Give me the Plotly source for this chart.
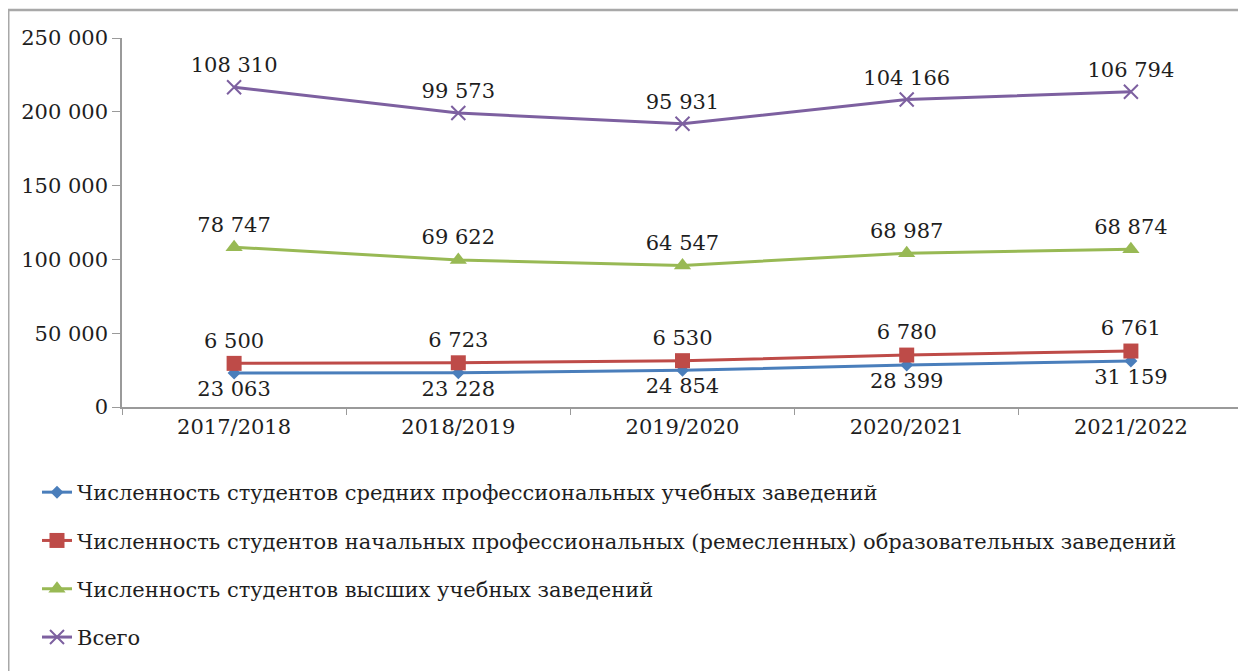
import plotly.graph_objects as go

years = ["2017/2018", "2018/2019", "2019/2020", "2020/2021", "2021/2022"]
secondary = [23063, 23228, 24854, 28399, 31159]
primary = [6500, 6723, 6530, 6780, 6761]
higher = [78747, 69622, 64547, 68987, 68874]
total = [108310, 99573, 95931, 104166, 106794]

names = [
    "Численность студентов средних профессиональных учебных заведений",
    "Численность студентов начальных профессиональных (ремесленных) образовательных заведений",
    "Численность студентов высших учебных заведений",
    "Всего",
]

FONT = "DejaVu Serif"
TXT = "#1e1e1e"

# page offset of the plotly div inside the html body (default body margin)
OFF = 8
W, H = 1246 - OFF, 671 - OFF
L, T = 122 - OFF, 38 - OFF
PW, PH = 1121, 369
R = W - L - PW
B = H - T - PH


def fmt(v):
    return f"{v:,}".replace(",", " ")


def px(xpix):
    return (xpix - OFF - L) / PW


def py(ypix):
    return (T + PH - (ypix - OFF)) / PH


series = [
    (secondary, names[0], "#4a7ebb", dict(symbol="diamond", size=10), "bottom center"),
    (primary, names[1], "#be4b48", dict(symbol="square", size=15), "top center"),
    (higher, names[2], "#98b954", dict(symbol="triangle-up", size=15), "top center"),
    (total, names[3], "#7d60a0", dict(symbol="x-thin", size=14, line=dict(width=2, color="#7d60a0")), "top center"),
]

fig = go.Figure()
for i, (vals, name, color, mk, tpos) in enumerate(series):
    fig.add_trace(go.Scatter(
        x=years, y=vals, name=name, stackgroup="s", fill="none",
        mode="lines+markers+text",
        line=dict(color=color, width=3),
        marker=dict(color=color, **mk),
        text=[fmt(v) for v in vals], textposition=tpos,
        textfont=dict(family=FONT, size=21, color=TXT),
        legendgroup=f"g{i}",
    ))

fig.update_layout(
    width=W, height=H,
    margin=dict(l=L, r=R, t=T, b=B, autoexpand=False),
    paper_bgcolor="white", plot_bgcolor="white",
    separators=", ",
    font=dict(family=FONT, size=21, color=TXT),
    showlegend=True,
    legend=dict(
        x=px(37), y=py(472), xanchor="left", yanchor="top",
        orientation="v", tracegroupgap=18,
        font=dict(family=FONT, size=21, color=TXT),
        bgcolor="rgba(0,0,0,0)",
    ),
    xaxis=dict(
        range=[-0.5, 4.5],
        showgrid=False, showline=True, linecolor="#9a9a9a", linewidth=1.5,
        ticks="outside", tickson="boundaries", ticklen=6, tickcolor="#9a9a9a",
        tickfont=dict(family=FONT, size=21, color=TXT),
    ),
    yaxis=dict(
        range=[0, 250000], dtick=50000, tickformat=",d",
        showgrid=False, showline=True, linecolor="#9a9a9a", linewidth=1.5,
        ticks="outside", ticklen=8, tickcolor="#9a9a9a",
        tickfont=dict(family=FONT, size=21, color=TXT),
        zeroline=False,
    ),
    shapes=[
        dict(type="line", xref="paper", yref="paper",
             x0=px(8), x1=px(8), y0=py(10), y1=py(700),
             line=dict(color="#a8a8a8", width=3)),
        dict(type="line", xref="paper", yref="paper",
             x0=px(8), x1=px(1260), y0=py(10), y1=py(10),
             line=dict(color="#a8a8a8", width=2.5)),
    ],
)

fig.write_html("out.html")
